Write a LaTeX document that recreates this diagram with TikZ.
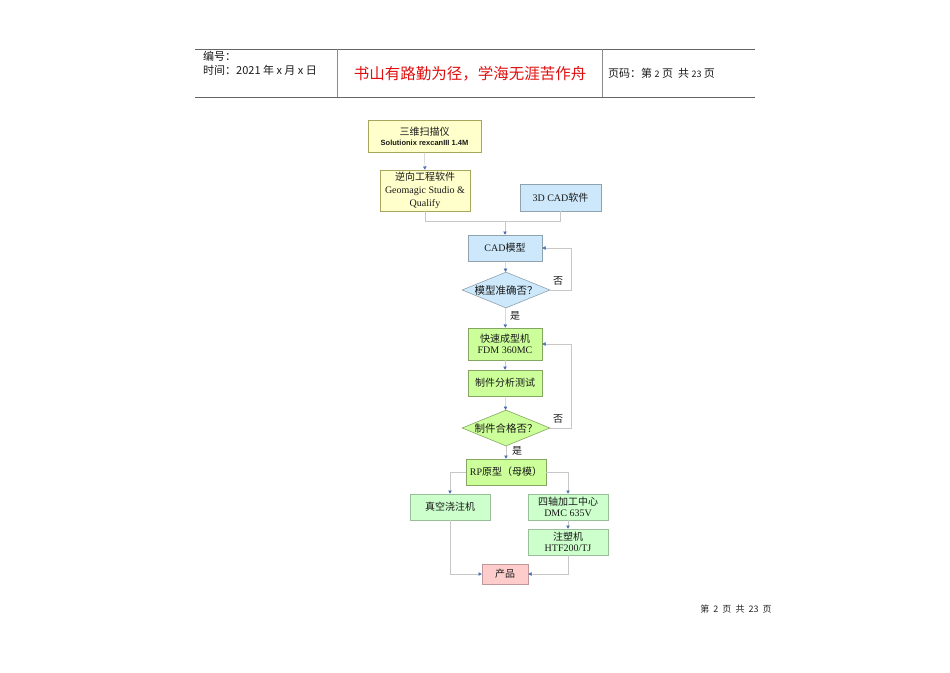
\documentclass[tikz,border=0pt]{standalone}
\usepackage{fontspec}
\setmainfont{Liberation Serif}
\setsansfont{Liberation Sans}
\newfontfamily\cjk{Noto Sans CJK SC}
\usetikzlibrary{
	arrows.meta,
	shapes.geometric,
	positioning,
}
\newcommand{\zh}[1]{{\cjk #1}}
\definecolor{scanyellow}{HTML}{FFFFCC}
\definecolor{cadblue}{HTML}{CCE8FA}
\definecolor{rpgreen}{HTML}{CCFF99}
\definecolor{moldgreen}{HTML}{CCFFCC}
\definecolor{prodpink}{HTML}{FFCCCC}
\definecolor{arrowblue}{HTML}{4A6FB5}
\definecolor{mottored}{HTML}{E01010}
\tikzset{stepbase/.style={
		% The shape:
		rectangle,
		% The border:
		line width=0.6pt,
		draw=black!30,
		% The text:
		align=center,
		inner sep=1pt,
		text=black!90,
		font=\fontsize{10}{13}\selectfont,
}}
\tikzset{
	yellowbox/.style={stepbase, fill=scanyellow, draw=black!25!scanyellow!60!olive},
	bluebox/.style={stepbase, fill=cadblue, draw=black!30!cadblue},
	greenbox/.style={stepbase, fill=rpgreen, draw=black!35!rpgreen},
	moldbox/.style={stepbase, fill=moldgreen, draw=black!25!moldgreen},
	pinkbox/.style={stepbase, fill=prodpink, draw=black!25!prodpink},
	decision/.style={diamond, aspect=2.4, inner sep=0pt, line width=0.6pt,
		minimum width=88pt, minimum height=36pt, text=black!90,
		font=\fontsize{10.5}{12}\selectfont\cjk},
	flow/.style={draw=black!22, line width=0.5pt,
		-{Triangle[length=3.2pt,width=3.4pt,color=arrowblue]}},
	link/.style={draw=black!22, line width=0.5pt},
	answer/.style={font=\fontsize{10}{12}\selectfont\cjk, text=black!90, inner sep=0pt},
	headtext/.style={font=\fontsize{11}{13}\selectfont\cjk, text=black!90, inner sep=0pt, anchor=west},
}

\begin{document}
\begin{tikzpicture}[x=1pt,y=-1pt]
	\fill[white] (0,0) rectangle (950,672);
	\useasboundingbox (0,0) rectangle (950,672);
	
	%% header
	\coordinate (htl) at (195,49);
	\coordinate (htr) at (755,49);
	\coordinate (hbl) at (195,97);
	\coordinate (hbr) at (755,97);
	\coordinate (hs1t) at (337,49);
	\coordinate (hs1b) at (337,97);
	\coordinate (hs2t) at (602,49);
	\coordinate (hs2b) at (602,97);
	\draw[black!60,line width=0.8pt] (htl) -- (htr);
	\draw[black!60,line width=0.8pt] (hbl) -- (hbr);
	\draw[black!45,line width=0.8pt] (hs1t) -- (hs1b);
	\draw[black!45,line width=0.8pt] (hs2t) -- (hs2b);
	\node (number) [headtext] at (203,56) {编号：};
	\node (date) [headtext] at (203,70) {时间：2021 年 x 月 x 日};
	\node (motto) [font=\fontsize{15.5}{17}\selectfont\cjk, text=mottored, inner sep=0pt] at (470,74) {书山有路勤为径，学海无涯苦作舟};
	\node (pageno) [headtext] at (608,73) {页码：第 {\fontsize{9}{10}\selectfont 2} 页\ \ 共 {\fontsize{9}{10}\selectfont 23} 页};
	
	%% scanning and modelling
	\node (scan) [yellowbox, minimum width=113pt, minimum height=32pt] at (424.5,136)
		{\zh{三维扫描仪}\\[-3pt]{\sffamily\bfseries\fontsize{7.5}{9}\selectfont Solutionix rexcanIII 1.4M}};
	\node (reverse) [yellowbox, minimum width=90pt, minimum height=41pt] at (425,190.5)
		{\zh{逆向工程软件}\\Geomagic Studio \&\\Qualify};
	\node (cad3d) [bluebox, minimum width=81pt, minimum height=27pt] at (560.5,197.5)
		{3D CAD\zh{软件}};
	\coordinate (join) at (505,221);
	\node (cadmodel) [bluebox, minimum width=74pt, minimum height=26pt] at (505,248)
		{CAD\zh{模型}};
	\node (check1) [decision, fill=cadblue, draw=black!30!cadblue] at (506,290) {模型准确否？};
	\node (no1) [answer] at (558,281) {否};
	\node (yes1) [answer] at (515,316) {是};
	
	%% rapid prototyping
	\node (fdm) [greenbox, minimum width=74pt, minimum height=32pt] at (505,344)
		{\zh{快速成型机}\\[-2pt]FDM 360MC};
	\node (test) [greenbox, minimum width=74pt, minimum height=26pt] at (505,383)
		{\zh{制件分析测试}};
	\node (check2) [decision, fill=rpgreen, draw=black!35!rpgreen] at (506,428) {制件合格否？};
	\node (no2) [answer] at (558,419) {否};
	\node (yes2) [answer] at (517,451) {是};
	\node (rp) [greenbox, minimum width=80pt, minimum height=26pt] at (506,472)
		{RP\zh{原型（母模）}};
	
	%% moulding
	\node (vacuum) [moldbox, minimum width=80pt, minimum height=26pt] at (450,507)
		{\zh{真空浇注机}};
	\node (cnc) [moldbox, minimum width=80pt, minimum height=26pt] at (568,507)
		{\zh{四轴加工中心}\\[-2pt]DMC 635V};
	\node (inject) [moldbox, minimum width=80pt, minimum height=26pt] at (568,542)
		{\zh{注塑机}\\[-2pt]HTF200/TJ};
	\node (product) [pinkbox, minimum width=46pt, minimum height=20pt] at (505,574)
		{\zh{产品}};
	
	%% footer
	\node (footer) [font=\fontsize{9}{10}\selectfont\cjk, text=black!85, inner sep=0pt] at (736,609)
		{第\ \ 2\ \ 页\ \ 共\ \ 23\ \ 页};
	
	%% connectors
	\draw[flow] (scan) to (reverse);
	\draw[link] (reverse.south) |- (join);
	\draw[link] (cad3d.south) |- (join);
	\draw[flow] (join) to (cadmodel);
	\draw[flow] (cadmodel) to (check1);
	\draw[flow] (check1.east) -- ++(21,0) |- (cadmodel.east);
	\draw[flow] (check1) to (fdm);
	\draw[flow] (fdm) to (test);
	\draw[flow] (test) to (check2);
	\draw[flow] (check2.east) -- ++(21,0) |- (fdm.east);
	\draw[flow] (check2) to (rp);
	\draw[flow] (rp.west) -| (vacuum.north);
	\draw[flow] (rp.east) -| (cnc.north);
	\draw[flow] (cnc) to (inject);
	\draw[flow] (vacuum.south) |- (product.west);
	\draw[flow] (inject.south) |- (product.east);
	
\end{tikzpicture}
\end{document}
